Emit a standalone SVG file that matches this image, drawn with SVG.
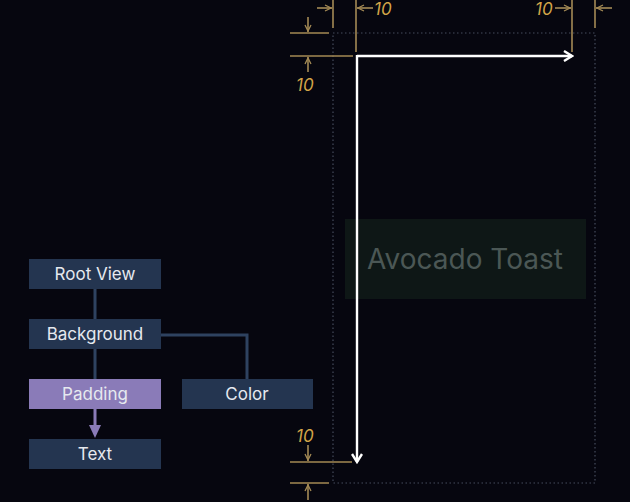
<svg xmlns="http://www.w3.org/2000/svg" width="630" height="502" viewBox="0 0 630 502">
<defs>
<style>
.node rect{fill:#243550}
.node text{font-family:"Inter","Liberation Sans",sans-serif;font-size:17px;fill:#e6e9ef;text-anchor:middle}
.conn{stroke:#2e4260;stroke-width:3;fill:none}
.dim{stroke:#a48a55;stroke-width:1.6;fill:none}
.dimlbl{font-family:"Inter","Liberation Sans",sans-serif;font-style:italic;font-size:17px;fill:#d2a448}
</style>
<marker id="dimA" viewBox="0 0 8 8" refX="8" refY="4" markerWidth="8" markerHeight="8" markerUnits="userSpaceOnUse" orient="auto">
<path d="M1,1 L7,4 L1,7" fill="none" stroke="#a48a55" stroke-width="1.3"/>
</marker>
<marker id="wA" viewBox="0 0 12 12" refX="10" refY="6" markerWidth="12" markerHeight="12" markerUnits="userSpaceOnUse" orient="auto">
<path d="M2,1 L10,6 L2,11" fill="none" stroke="#ffffff" stroke-width="2.4"/>
</marker>
</defs>
<rect width="630" height="502" fill="#06060f"/>

<g id="canvas">
<rect x="333" y="33" width="262" height="450" fill="none" stroke="#454b5c" stroke-width="1.2" stroke-dasharray="1.5,2.5"/>
<rect x="345" y="219" width="241" height="80" fill="#0e1716"/>
<text x="465" y="269" font-family="Inter,'Liberation Sans',sans-serif" font-size="28" fill="#4b5755" text-anchor="middle">Avocado Toast</text>
</g>

<g id="dimensions">
<line class="dim" x1="333" y1="0" x2="333" y2="28"/>
<line class="dim" x1="356" y1="0" x2="356" y2="52"/>
<line class="dim" x1="317" y1="8" x2="332" y2="8" marker-end="url(#dimA)"/>
<line class="dim" x1="373" y1="8" x2="357" y2="8" marker-end="url(#dimA)"/>
<text class="dimlbl" x="374" y="15">10</text>
<line class="dim" x1="572" y1="0" x2="572" y2="52"/>
<line class="dim" x1="595" y1="0" x2="595" y2="28"/>
<text class="dimlbl" x="535" y="15">10</text>
<line class="dim" x1="555" y1="8" x2="571" y2="8" marker-end="url(#dimA)"/>
<line class="dim" x1="612" y1="8" x2="596" y2="8" marker-end="url(#dimA)"/>
<line class="dim" x1="290" y1="33" x2="329" y2="33"/>
<line class="dim" x1="290" y1="56" x2="353" y2="56"/>
<line class="dim" x1="308" y1="17" x2="308" y2="32" marker-end="url(#dimA)"/>
<line class="dim" x1="308" y1="72" x2="308" y2="57" marker-end="url(#dimA)"/>
<text class="dimlbl" x="296" y="91">10</text>
<text class="dimlbl" x="296" y="442">10</text>
<line class="dim" x1="308" y1="445" x2="308" y2="461" marker-end="url(#dimA)"/>
<line class="dim" x1="290" y1="462" x2="352" y2="462"/>
<line class="dim" x1="290" y1="483" x2="329" y2="483"/>
<line class="dim" x1="308" y1="500" x2="308" y2="484" marker-end="url(#dimA)"/>
</g>

<g id="frame-arrows">
<line x1="357" y1="56" x2="572" y2="56" stroke="#ffffff" stroke-width="2.4" marker-end="url(#wA)"/>
<line x1="357" y1="55" x2="357" y2="462" stroke="#ffffff" stroke-width="2.4" marker-end="url(#wA)"/>
</g>

<g id="connectors">
<line class="conn" x1="95" y1="289" x2="95" y2="319"/>
<line class="conn" x1="95" y1="349" x2="95" y2="379"/>
<polyline class="conn" points="161,335 247,335 247,379"/>
<line x1="95" y1="409" x2="95" y2="428" stroke="#8a7bb8" stroke-width="3"/>
<path d="M89,425 L101,425 L95,438 Z" fill="#8a7bb8"/>
</g>

<g id="root-view" class="node"><rect x="29" y="259" width="132" height="30"/><text x="95" y="280">Root View</text></g>
<g id="background" class="node"><rect x="29" y="319" width="132" height="30"/><text x="95" y="340">Background</text></g>
<g id="padding" class="node"><rect x="29" y="379" width="132" height="30" style="fill:#8a7bb8"/><text x="95" y="400">Padding</text></g>
<g id="color" class="node"><rect x="182" y="379" width="131" height="30"/><text x="247" y="400">Color</text></g>
<g id="text" class="node"><rect x="29" y="439" width="132" height="30"/><text x="95" y="460">Text</text></g>
</svg>
